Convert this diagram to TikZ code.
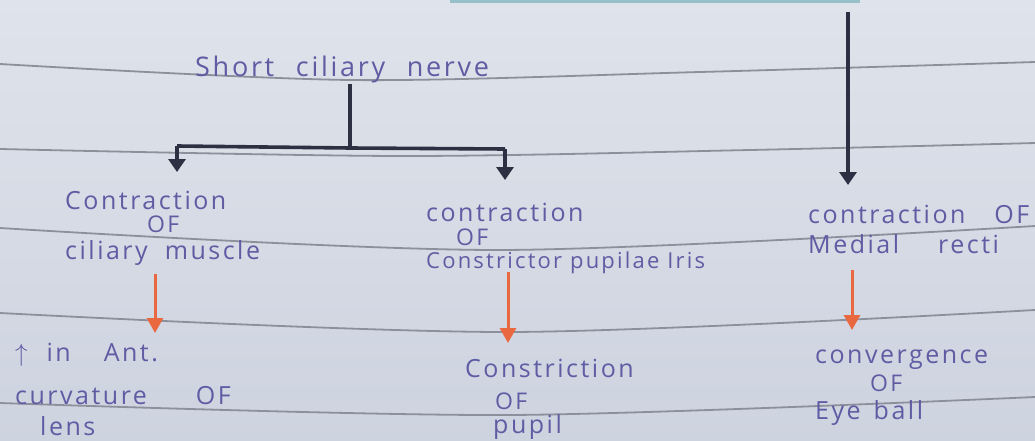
\documentclass[tikz,border=0pt]{standalone}
\usepackage{fontspec}
\setmainfont{Open Sans}[LetterSpace=10]
\usetikzlibrary{arrows.meta,calc}
\definecolor{paper}{HTML}{D7DCE6}
\definecolor{paperlow}{HTML}{CDD3DF}
\definecolor{rule}{HTML}{8C909B}
\definecolor{ink}{HTML}{5F5CA4}
\definecolor{marker}{HTML}{2B3042}
\definecolor{orangeink}{HTML}{E9683F}
\definecolor{tape}{HTML}{62A9B2}
\tikzset{
  ruled/.style={rule, line width=1.8pt},
  hand/.style={ink, font=\fontsize{25}{26}\selectfont, align=left, inner sep=0pt, anchor=north west},
  blackarrow/.style={marker, line width=3.6pt, -{Triangle[width=17pt,length=13pt]}},
  blackline/.style={marker, line width=3.6pt},
  orangearrow/.style={orangeink, line width=3pt, -{Triangle[width=16pt,length=15pt]}}
}
% a word space widened by the given amount
\newcommand{\gap}[1]{\ \hspace*{#1}}
% the short "OF" written between two lines
\newcommand{\smallof}{{\fontsize{23}{23}\selectfont OF}}
\begin{document}
\begin{tikzpicture}[x=1pt,y=-1pt]
  % paper
  \shade[top color=paper!80!white, bottom color=paperlow] (0,0) rectangle (1035,441);
  \useasboundingbox (0,0) rectangle (1035,441);
  \fill[tape!55!paper] (450,0) rectangle (860,3);
  % ruled lines of the notebook page
  \draw[ruled] plot[smooth] coordinates {(0,64) (350,80) (700,72) (1035,62)};
  \draw[ruled] plot[smooth] coordinates {(0,149) (400,156) (750,150) (1035,143)};
  \draw[ruled] plot[smooth] coordinates {(0,228) (500,250) (1035,226)};
  \draw[ruled] plot[smooth] coordinates {(0,313) (510,332) (1035,310)};
  \draw[ruled] plot[smooth] coordinates {(0,403) (510,415) (1035,397)};

  % text
  \node[hand, font=\fontsize{27}{28}\selectfont] (nerve) at (195,56) {Short\gap{12pt}ciliary\gap{12pt}nerve};
  \node[hand] (cm) at (65,191) {Contraction\\[-3pt]\hspace*{82pt}\smallof\\[1pt]ciliary\gap{8pt}muscle};
  \node[hand] (cp) at (426,203) {contraction\\[-2pt]\hspace*{30pt}\smallof\\[-3pt]{\fontsize{22}{22}\selectfont Constrictor pupilae Iris}};
  \node[hand] (mr) at (808,205) {contraction\gap{20pt}OF\\[4pt]Medial\gap{30pt}recti};
  \node[hand] (lens) at (15,343) {$\uparrow$\gap{10pt}in\gap{24pt}Ant.\\[17pt]curvature\gap{40pt}OF\\[5pt]\hspace*{25pt}lens};
  \node[hand] (pupil) at (465,359) {Constriction\\[6pt]\hspace*{30pt}\smallof\\[-2pt]\hspace*{28pt}pupil};
  \node[hand] (eye) at (815,350) {convergence\\[2pt]\hspace*{55pt}\smallof\\[2pt]Eye\gap{4pt}ball};

  % short ciliary nerve branching
  \coordinate (fork) at (350,148);
  \coordinate (leftcorner) at (177,146);
  \coordinate (rightcorner) at (505,149);
  \draw[blackline] (nerve.south -| fork) ++(0,1) -- (fork);
  \draw[blackline] (leftcorner) -- (fork) -- (rightcorner);
  \draw[blackarrow, shorten >=19pt] (leftcorner) -- (leftcorner |- cm.north);
  \draw[blackarrow, shorten >=23pt] (rightcorner) -- (rightcorner |- cp.north);

  % pathway to medial recti
  \coordinate (topsource) at (848,12);
  \draw[blackarrow, shorten >=20pt] (topsource) -- (topsource |- mr.north);

  % results
  \coordinate (o1) at (155,274);
  \coordinate (o2) at (508,272);
  \coordinate (o3) at (852,270);
  \draw[orangearrow, shorten >=10pt] (o1) -- (o1 |- lens.north);
  \draw[orangearrow, shorten >=16pt] (o2) -- (o2 |- pupil.north);
  \draw[orangearrow, shorten >=20pt] (o3) -- (o3 |- eye.north);
\end{tikzpicture}
\end{document}
